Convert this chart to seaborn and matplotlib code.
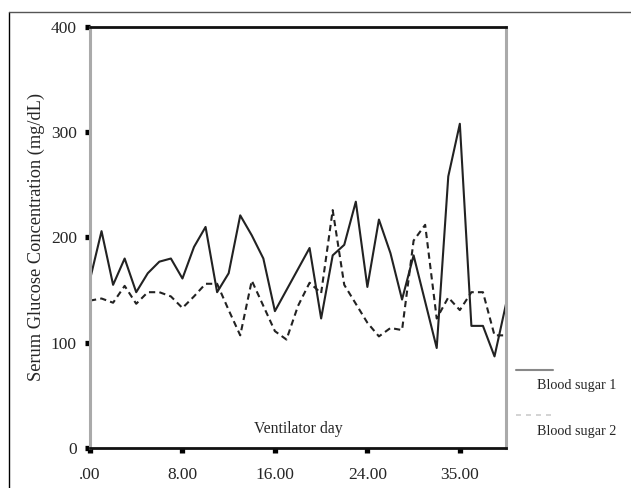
import numpy as np
import pandas as pd
import matplotlib
matplotlib.use("Agg")
import matplotlib.pyplot as plt
import seaborn as sns
from matplotlib.lines import Line2D

# values, one per ventilator-day slot
day_idx = list(range(37))
sugar1 = [160, 206, 155, 180, 148, 166, 177, 180, 161, 191,
          210, 148, 166, 221, 202, 180, 130, 150, 170, 190,
          123, 183, 193, 234, 153, 217, 185, 141, 183, 139,
          95, 258, 308, 116, 116, 87, 137]
sugar2 = [140, 142, 138, 154, 137, 148, 148, 144, 133, 144,
          156, 156, 131, 107, 159, 135, 111, 103, 135, 157,
          147, 226, 155, 137, 119, 106, 114, 112, 197, 212,
          123, 143, 131, 148, 148, 107, 107]
tick_pos = [0, 8, 16, 24, 32]
tick_labels = [".00", "8.00", "16.00", "24.00", "35.00"]
series_names = ["Blood sugar 1", "Blood sugar 2"]

df = pd.DataFrame({
    "day": day_idx * 2,
    "value": sugar1 + sugar2,
    "series": [series_names[0]] * len(sugar1) + [series_names[1]] * len(sugar2),
})

sns.set_style("white")
plt.rcParams["font.family"] = ["Liberation Serif", "DejaVu Serif"]

fig = plt.figure(figsize=(6.31, 4.88), dpi=100)
ax = fig.add_axes([0.1426, 0.082, 0.6594, 0.8628])

sns.lineplot(data=df, x="day", y="value", style="series",
             dashes={series_names[0]: "", series_names[1]: (3, 2)},
             color="#222222", linewidth=1.5, legend=False, ax=ax)

ax.set_xlim(0, 36)
ax.set_ylim(0, 400)
ax.set_xticks(tick_pos)
ax.set_xticklabels(tick_labels)
ax.set_yticks([0, 100, 200, 300, 400])
ax.tick_params(axis="both", bottom=True, left=True, length=3.5, width=3.8,
               color="black", direction="out", labelsize=12.5)
ax.tick_params(axis="x", pad=10)
ax.tick_params(axis="y", pad=6)
ax.set_xlabel("")
ax.set_ylabel("Serum Glucose Concentration (mg/dL)", fontsize=13.2, labelpad=4)
ax.text(0.5, 0.045, "Ventilator day", transform=ax.transAxes,
        ha="center", va="center", fontsize=11.3)

for side in ["left", "right"]:
    ax.spines[side].set_color("#aaaaaa")
    ax.spines[side].set_linewidth(2.2)
for side in ["top", "bottom"]:
    ax.spines[side].set_color("#111111")
    ax.spines[side].set_linewidth(2)

# legend drawn off to the right, below the plot
fig.add_artist(Line2D([0.818, 0.876], [0.242, 0.242], transform=fig.transFigure,
                      color="#888888", linewidth=1.5))
fig.text(0.851, 0.211, series_names[0], fontsize=10.2, va="center")
fig.add_artist(Line2D([0.818, 0.876], [0.150, 0.150], transform=fig.transFigure,
                      color="#cccccc", linewidth=1.2, linestyle=(0, (3, 3))))
fig.text(0.851, 0.115, series_names[1], fontsize=10.2, va="center")

# outer frame lines
fig.add_artist(Line2D([0.0143, 0.0143], [0.0, 0.975], transform=fig.transFigure,
                      color="black", linewidth=1))
fig.add_artist(Line2D([0.0143, 1.0], [0.975, 0.975], transform=fig.transFigure,
                      color="#555555", linewidth=1))

fig.savefig("out.png", dpi=100)
